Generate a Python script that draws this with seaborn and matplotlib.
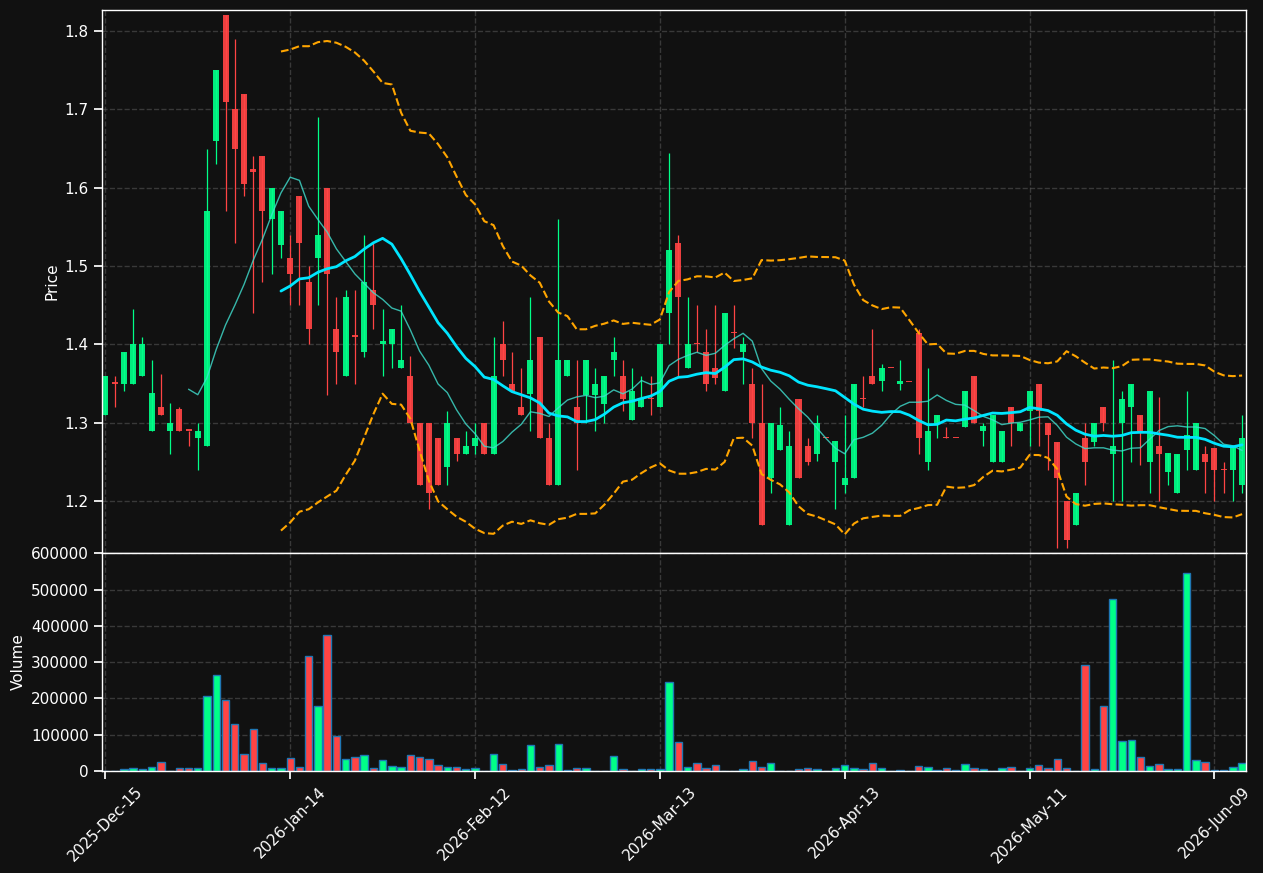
import matplotlib
matplotlib.use("Agg")
import matplotlib.pyplot as plt
import numpy as np
import pandas as pd
import seaborn as sns

# trading days (US holidays skipped)
holidays = ["2025-12-25", "2026-01-01", "2026-01-19", "2026-02-16",
            "2026-04-03", "2026-05-25"]
dates = pd.bdate_range("2025-12-15", periods=124, freq="C", holidays=holidays)

opens = [1.31, 1.35, 1.35, 1.35, 1.36, 1.29, 1.32, 1.29, 1.317, 1.29,
         1.28, 1.27, 1.66, 1.82, 1.70, 1.72, 1.624, 1.64, 1.56, 1.527,
         1.51, 1.59, 1.48, 1.51, 1.60, 1.42, 1.36, 1.41, 1.39, 1.47,
         1.40, 1.40, 1.37, 1.36, 1.30, 1.30, 1.28, 1.244, 1.28, 1.26,
         1.27, 1.30, 1.26, 1.40, 1.35, 1.32, 1.337, 1.41, 1.28, 1.22,
         1.36, 1.32, 1.335, 1.335, 1.324, 1.38, 1.36, 1.304, 1.32, 1.33,
         1.32, 1.44, 1.53, 1.37, 1.40, 1.39, 1.37, 1.34, 1.415, 1.39,
         1.35, 1.30, 1.23, 1.265, 1.17, 1.33, 1.27, 1.26, 1.28, 1.25,
         1.22, 1.23, 1.33, 1.36, 1.353, 1.37, 1.35, 1.352, 1.415, 1.25,
         1.30, 1.28, 1.28, 1.294, 1.36, 1.29, 1.25, 1.25, 1.32, 1.29,
         1.315, 1.35, 1.30, 1.276, 1.20, 1.17, 1.28, 1.275, 1.32, 1.26,
         1.30, 1.32, 1.31, 1.25, 1.27, 1.237, 1.21, 1.265, 1.24, 1.26,
         1.268, 1.24, 1.24, 1.22]
highs = [1.36, 1.36, 1.39, 1.445, 1.41, 1.38, 1.362, 1.325, 1.32, 1.29,
         1.30, 1.65, 1.75, 1.82, 1.79, 1.72, 1.64, 1.64, 1.60, 1.57,
         1.54, 1.59, 1.50, 1.69, 1.60, 1.46, 1.47, 1.47, 1.54, 1.53,
         1.445, 1.42, 1.45, 1.385, 1.30, 1.30, 1.28, 1.315, 1.28, 1.29,
         1.30, 1.30, 1.41, 1.43, 1.39, 1.37, 1.46, 1.41, 1.30, 1.56,
         1.38, 1.38, 1.38, 1.37, 1.36, 1.41, 1.38, 1.37, 1.36, 1.36,
         1.40, 1.645, 1.54, 1.46, 1.45, 1.42, 1.45, 1.44, 1.45, 1.41,
         1.37, 1.35, 1.30, 1.32, 1.29, 1.33, 1.28, 1.31, 1.28, 1.277,
         1.31, 1.35, 1.36, 1.42, 1.375, 1.37, 1.38, 1.352, 1.42, 1.37,
         1.31, 1.295, 1.28, 1.34, 1.36, 1.30, 1.31, 1.29, 1.32, 1.30,
         1.34, 1.35, 1.30, 1.276, 1.20, 1.21, 1.30, 1.30, 1.32, 1.38,
         1.34, 1.35, 1.31, 1.34, 1.333, 1.261, 1.26, 1.34, 1.30, 1.27,
         1.268, 1.25, 1.27, 1.31]
lows = [1.31, 1.32, 1.34, 1.35, 1.36, 1.29, 1.31, 1.26, 1.29, 1.27,
        1.24, 1.27, 1.63, 1.57, 1.53, 1.59, 1.44, 1.48, 1.49, 1.51,
        1.45, 1.45, 1.40, 1.45, 1.335, 1.35, 1.36, 1.35, 1.384, 1.42,
        1.36, 1.37, 1.37, 1.30, 1.22, 1.19, 1.22, 1.22, 1.251, 1.26,
        1.26, 1.26, 1.26, 1.36, 1.34, 1.31, 1.29, 1.28, 1.22, 1.22,
        1.36, 1.24, 1.30, 1.29, 1.30, 1.36, 1.315, 1.304, 1.32, 1.31,
        1.32, 1.40, 1.36, 1.37, 1.39, 1.34, 1.35, 1.34, 1.396, 1.35,
        1.28, 1.17, 1.21, 1.265, 1.17, 1.23, 1.246, 1.251, 1.28, 1.19,
        1.21, 1.23, 1.32, 1.35, 1.34, 1.37, 1.342, 1.352, 1.26, 1.24,
        1.28, 1.28, 1.28, 1.294, 1.30, 1.27, 1.25, 1.25, 1.27, 1.29,
        1.27, 1.27, 1.24, 1.14, 1.14, 1.17, 1.22, 1.27, 1.29, 1.20,
        1.20, 1.25, 1.246, 1.21, 1.20, 1.22, 1.21, 1.24, 1.24, 1.21,
        1.20, 1.21, 1.20, 1.21]
closes = [1.36, 1.35, 1.39, 1.40, 1.40, 1.338, 1.31, 1.30, 1.29, 1.29,
          1.29, 1.57, 1.75, 1.71, 1.65, 1.605, 1.62, 1.57, 1.60, 1.57,
          1.49, 1.53, 1.42, 1.54, 1.49, 1.39, 1.46, 1.41, 1.48, 1.45,
          1.405, 1.42, 1.38, 1.30, 1.22, 1.21, 1.22, 1.30, 1.26, 1.27,
          1.28, 1.26, 1.36, 1.38, 1.34, 1.31, 1.38, 1.28, 1.22, 1.38,
          1.38, 1.30, 1.38, 1.35, 1.36, 1.39, 1.33, 1.34, 1.33, 1.33,
          1.40, 1.52, 1.46, 1.40, 1.40, 1.35, 1.357, 1.44, 1.415, 1.40,
          1.30, 1.17, 1.30, 1.297, 1.27, 1.23, 1.25, 1.30, 1.28, 1.277,
          1.23, 1.35, 1.33, 1.35, 1.37, 1.37, 1.353, 1.352, 1.28, 1.29,
          1.31, 1.28, 1.28, 1.34, 1.30, 1.296, 1.31, 1.29, 1.30, 1.30,
          1.34, 1.315, 1.285, 1.23, 1.15, 1.21, 1.25, 1.30, 1.30, 1.27,
          1.33, 1.35, 1.29, 1.34, 1.26, 1.261, 1.26, 1.285, 1.30, 1.25,
          1.24, 1.24, 1.27, 1.28]
volumes = [500, 1000, 4600, 7400, 4600, 10000, 24000, 500, 7400, 7400,
           7400, 207000, 266000, 196000, 130000, 46300, 115700, 21300, 9300, 9300,
           35000, 10000, 315700, 179600, 374000, 96000, 32400, 38000, 43500, 7400,
           29600, 13000, 10000, 43500, 38000, 32400, 15700, 10000, 10000, 4600,
           7400, 500, 46300, 18500, 2000, 4600, 71300, 12000, 15700, 74000,
           1500, 9000, 9000, 1000, 1000, 40700, 6500, 1000, 4600, 6500,
           6500, 246000, 79600, 12000, 21300, 9000, 15700, 1000, 800, 4600,
           26800, 12000, 21300, 800, 800, 4600, 7400, 4600, 500, 7400,
           15700, 7400, 4600, 21300, 7400, 500, 1800, 500, 13000, 10000,
           1500, 7400, 1500, 18500, 7400, 4600, 1000, 7400, 10000, 1000,
           7400, 15700, 7400, 32400, 7400, 1000, 293500, 4600, 179600, 474000,
           82400, 85200, 38000, 13000, 18500, 4600, 4600, 546000, 29600, 24000,
           1500, 3700, 10000, 21300]

UP = "#00ff88"
DOWN = "#ff4444"
BG = "#111111"

df = pd.DataFrame({"Open": opens, "High": highs, "Low": lows,
                   "Close": closes, "Volume": volumes}, index=dates)
df["x"] = np.arange(len(df))
df["MA10"] = df["Close"].rolling(10).mean()
df["MA20"] = df["Close"].rolling(20).mean()
std20 = df["Close"].rolling(20).std(ddof=0)
df["Upper"] = df["MA20"] + 2 * std20
df["Lower"] = df["MA20"] - 2 * std20
colors = np.where(df["Close"] > df["Open"], UP, DOWN)

sns.set_theme(style="dark", rc={
    "figure.facecolor": BG, "axes.facecolor": BG,
    "axes.edgecolor": "white", "axes.labelcolor": "white",
    "xtick.color": "white", "ytick.color": "white",
    "text.color": "white", "grid.color": "#555555",
    "grid.linestyle": "--", "axes.grid": True,
    "xtick.bottom": True, "ytick.left": True,
})

fig = plt.figure(figsize=(12.63, 8.73), dpi=100)
ax1 = fig.add_axes([0.0808, 0.36655, 0.9058, 0.62199])
ax2 = fig.add_axes([0.0808, 0.11684, 0.9058, 0.24971], sharex=ax1)

# candles
ax1.vlines(df["x"], df["Low"], df["High"], colors=colors, linewidth=0.9)
body = (df["Close"] - df["Open"]).abs().clip(lower=0.0015)
bottom = df[["Open", "Close"]].min(axis=1)
ax1.bar(df["x"], body, bottom=bottom, width=0.65, color=colors, alpha=0.92,
        linewidth=0)

ma = df.dropna(subset=["MA10"])
sns.lineplot(x=ma["x"], y=ma["MA10"], ax=ax1, color="#40e0d0", linewidth=1,
             alpha=0.8)
bb = df.dropna(subset=["MA20"])
sns.lineplot(x=bb["x"], y=bb["MA20"], ax=ax1, color="#00e5ff", linewidth=2)
sns.lineplot(x=bb["x"], y=bb["Upper"], ax=ax1, color="orange", linewidth=1.5,
             linestyle="--")
sns.lineplot(x=bb["x"], y=bb["Lower"], ax=ax1, color="orange", linewidth=1.5,
             linestyle="--")

ax1.set_ylim(1.1337, 1.827)
ax1.set_ylabel("Price", fontsize=11)
ax1.set_xlabel("")
ax1.tick_params(labelbottom=False, labelsize=11)
ax1.grid(True, linestyle="--", color="#555555", alpha=0.6)

# volume
ax2.bar(df["x"], df["Volume"], width=0.8, color=colors, edgecolor="#1f77b4",
        linewidth=1)
ax2.set_ylim(0, 601000)
ax2.set_ylabel("Volume", fontsize=11)
ax2.ticklabel_format(axis="y", style="plain")
ax2.grid(True, linestyle="--", color="#555555", alpha=0.6)
ax2.tick_params(labelsize=11)

ticks = list(range(0, len(df), 20))
ax2.set_xticks(ticks)
ax2.set_xticklabels([dates[t].strftime("%Y-%b-%d") for t in ticks],
                    rotation=45, ha="center")
ax2.set_xlim(-0.36, 123.43)

for ax in (ax1, ax2):
    for s in ax.spines.values():
        s.set_color("white")
        s.set_linewidth(1)

fig.savefig("out.png", dpi=100, facecolor=BG)
